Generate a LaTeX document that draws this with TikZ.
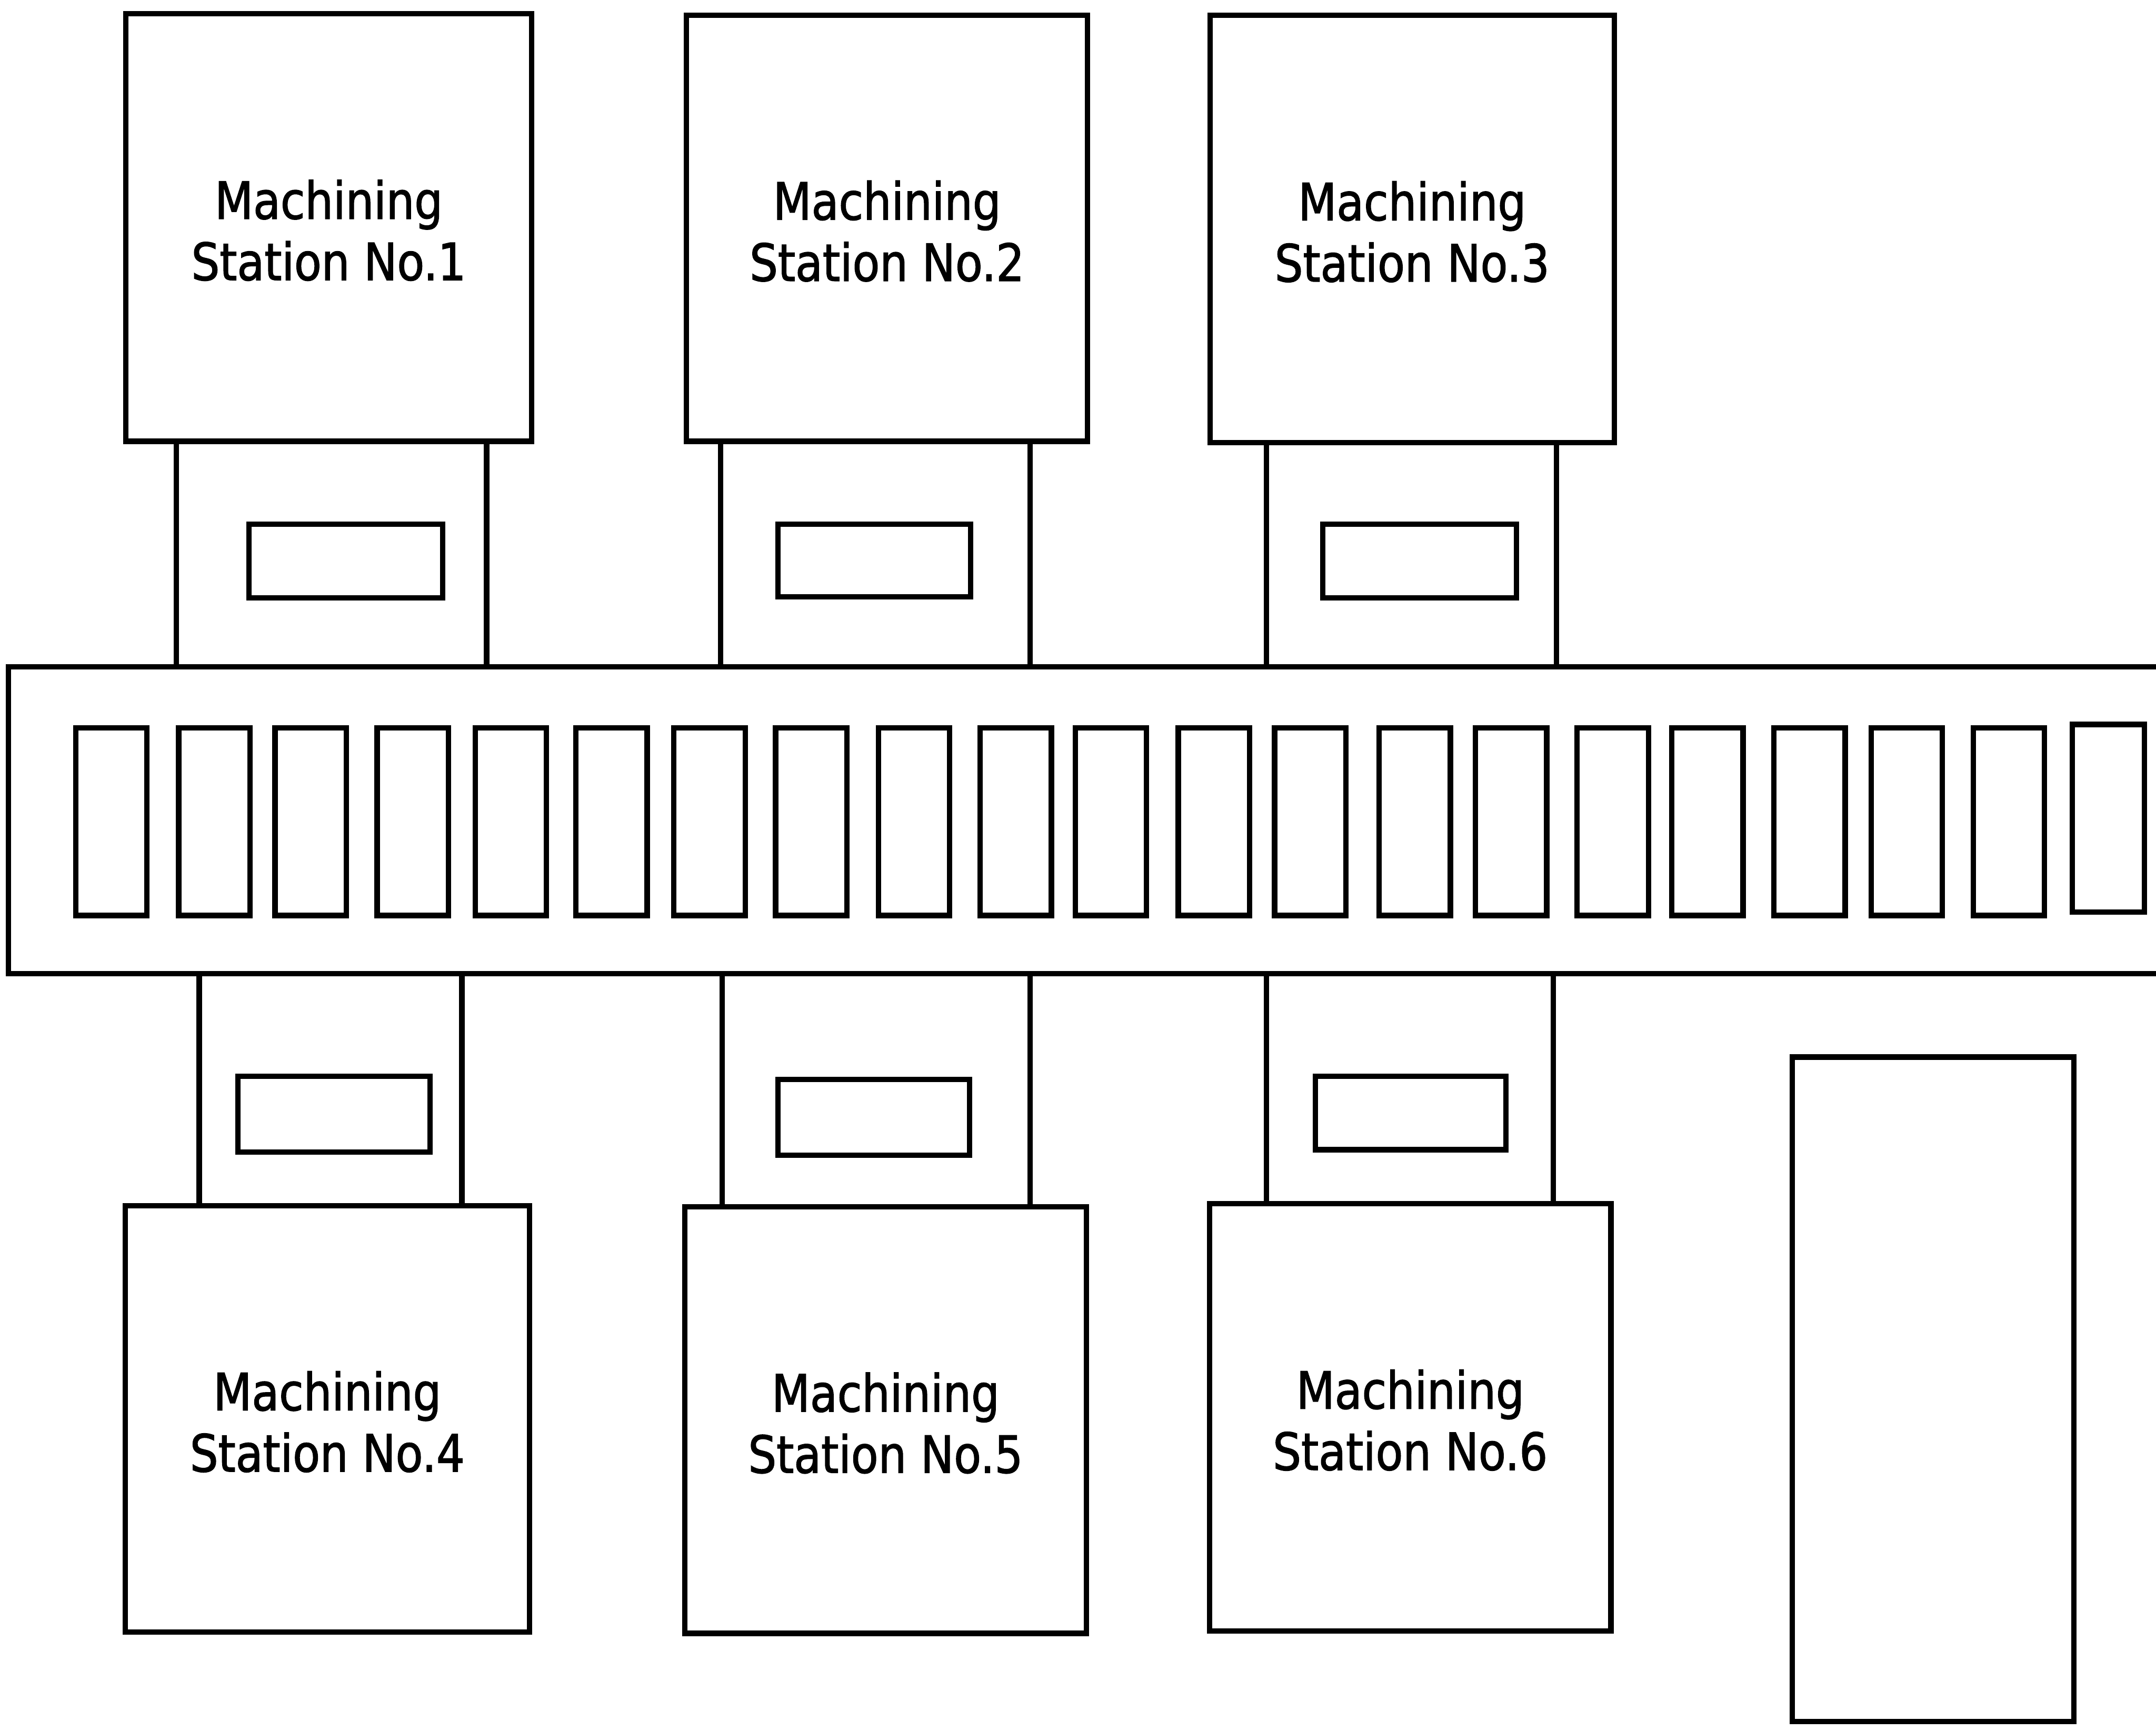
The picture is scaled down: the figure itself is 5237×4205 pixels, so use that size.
\documentclass[tikz,border=0pt]{standalone}
\usepackage{fontspec}
\newfontfamily\lblfont[FakeStretch=0.865,FakeBold=1.5]{DejaVu Sans}
\usetikzlibrary{fit}
\begin{document}
\begin{tikzpicture}[x=0.005cm, y=-0.005cm,
  unit/.style={draw=black, line width=1.85pt, inner sep=0pt, outer sep=0pt},
  lbl/.style={align=center, inner sep=0pt, font=\lblfont\fontsize{17.8pt}{21.2pt}\selectfont},
  rail/.style={draw=black, line width=1.85pt, line join=miter}]
\useasboundingbox (0,0) rectangle (5237,4205);

% conveyor (open on the right)
\coordinate (cTR) at (5237,1620);
\coordinate (cTL) at (20,1620);
\coordinate (cBL) at (20,2365);
\coordinate (cBR) at (5237,2365);
\draw[rail] (cTR) -- (cTL) -- (cBL) -- (cBR);

% pallets on the conveyor
\foreach \i/\l in {1/184,2/434,3/668,4/916,5/1154,6/1399,7/1637,8/1884,9/2134,10/2381,
                   11/2612,12/2862,13/3096,14/3350,15/3584,16/3831,17/4061,18/4309,19/4545,20/4793}
  {\node[unit, fit={(\l,1768)(\l+173,2224)}] (p\i) {};}
\node[unit, fit={(5034,1760)(5209,2216)}] (p21) {};

% necks (loading areas) between stations and conveyor
\node[unit, fit={(428,1072)(1182,1620)}] (n1) {};
\node[unit, fit={(1750,1072)(2502,1620)}] (n2) {};
\node[unit, fit={(3076,1075)(3781,1620)}] (n3) {};
\node[unit, fit={(484,2365)(1122,2929)}] (n4) {};
\node[unit, fit={(1754,2365)(2502,2932)}] (n5) {};
\node[unit, fit={(3076,2365)(3773,2924)}] (n6) {};

% small rectangles in the necks
\node[unit, fit={(605,1273)(1075,1453)}] (r1) {};
\node[unit, fit={(1890,1273)(2358,1450)}] (r2) {};
\node[unit, fit={(3213,1273)(3684,1453)}] (r3) {};
\node[unit, fit={(578,2615)(1045,2799)}] (r4) {};
\node[unit, fit={(1890,2622)(2355,2806)}] (r5) {};
\node[unit, fit={(3195,2615)(3658,2793)}] (r6) {};

% machining stations
\node[unit, fit={(306,33)(1291,1072)}] (s1) {};
\node[unit, fit={(1667,37)(2642,1072)}] (s2) {};
\node[unit, fit={(2939,37)(3921,1075)}] (s3) {};
\node[unit, fit={(304,2929)(1286,3965)}] (s4) {};
\node[unit, fit={(1663,2932)(2639,3968)}] (s5) {};
\node[unit, fit={(2938,2924)(3913,3962)}] (s6) {};
\foreach \k in {1,...,6}
  {\node[lbl, yshift=-1pt] (t\k) at (s\k.center) {Machining\\Station No.\k};}

% tall rectangle at bottom right
\node[unit, fit={(4353,2568)(5037,4182)}] (tall) {};
\end{tikzpicture}
\end{document}
